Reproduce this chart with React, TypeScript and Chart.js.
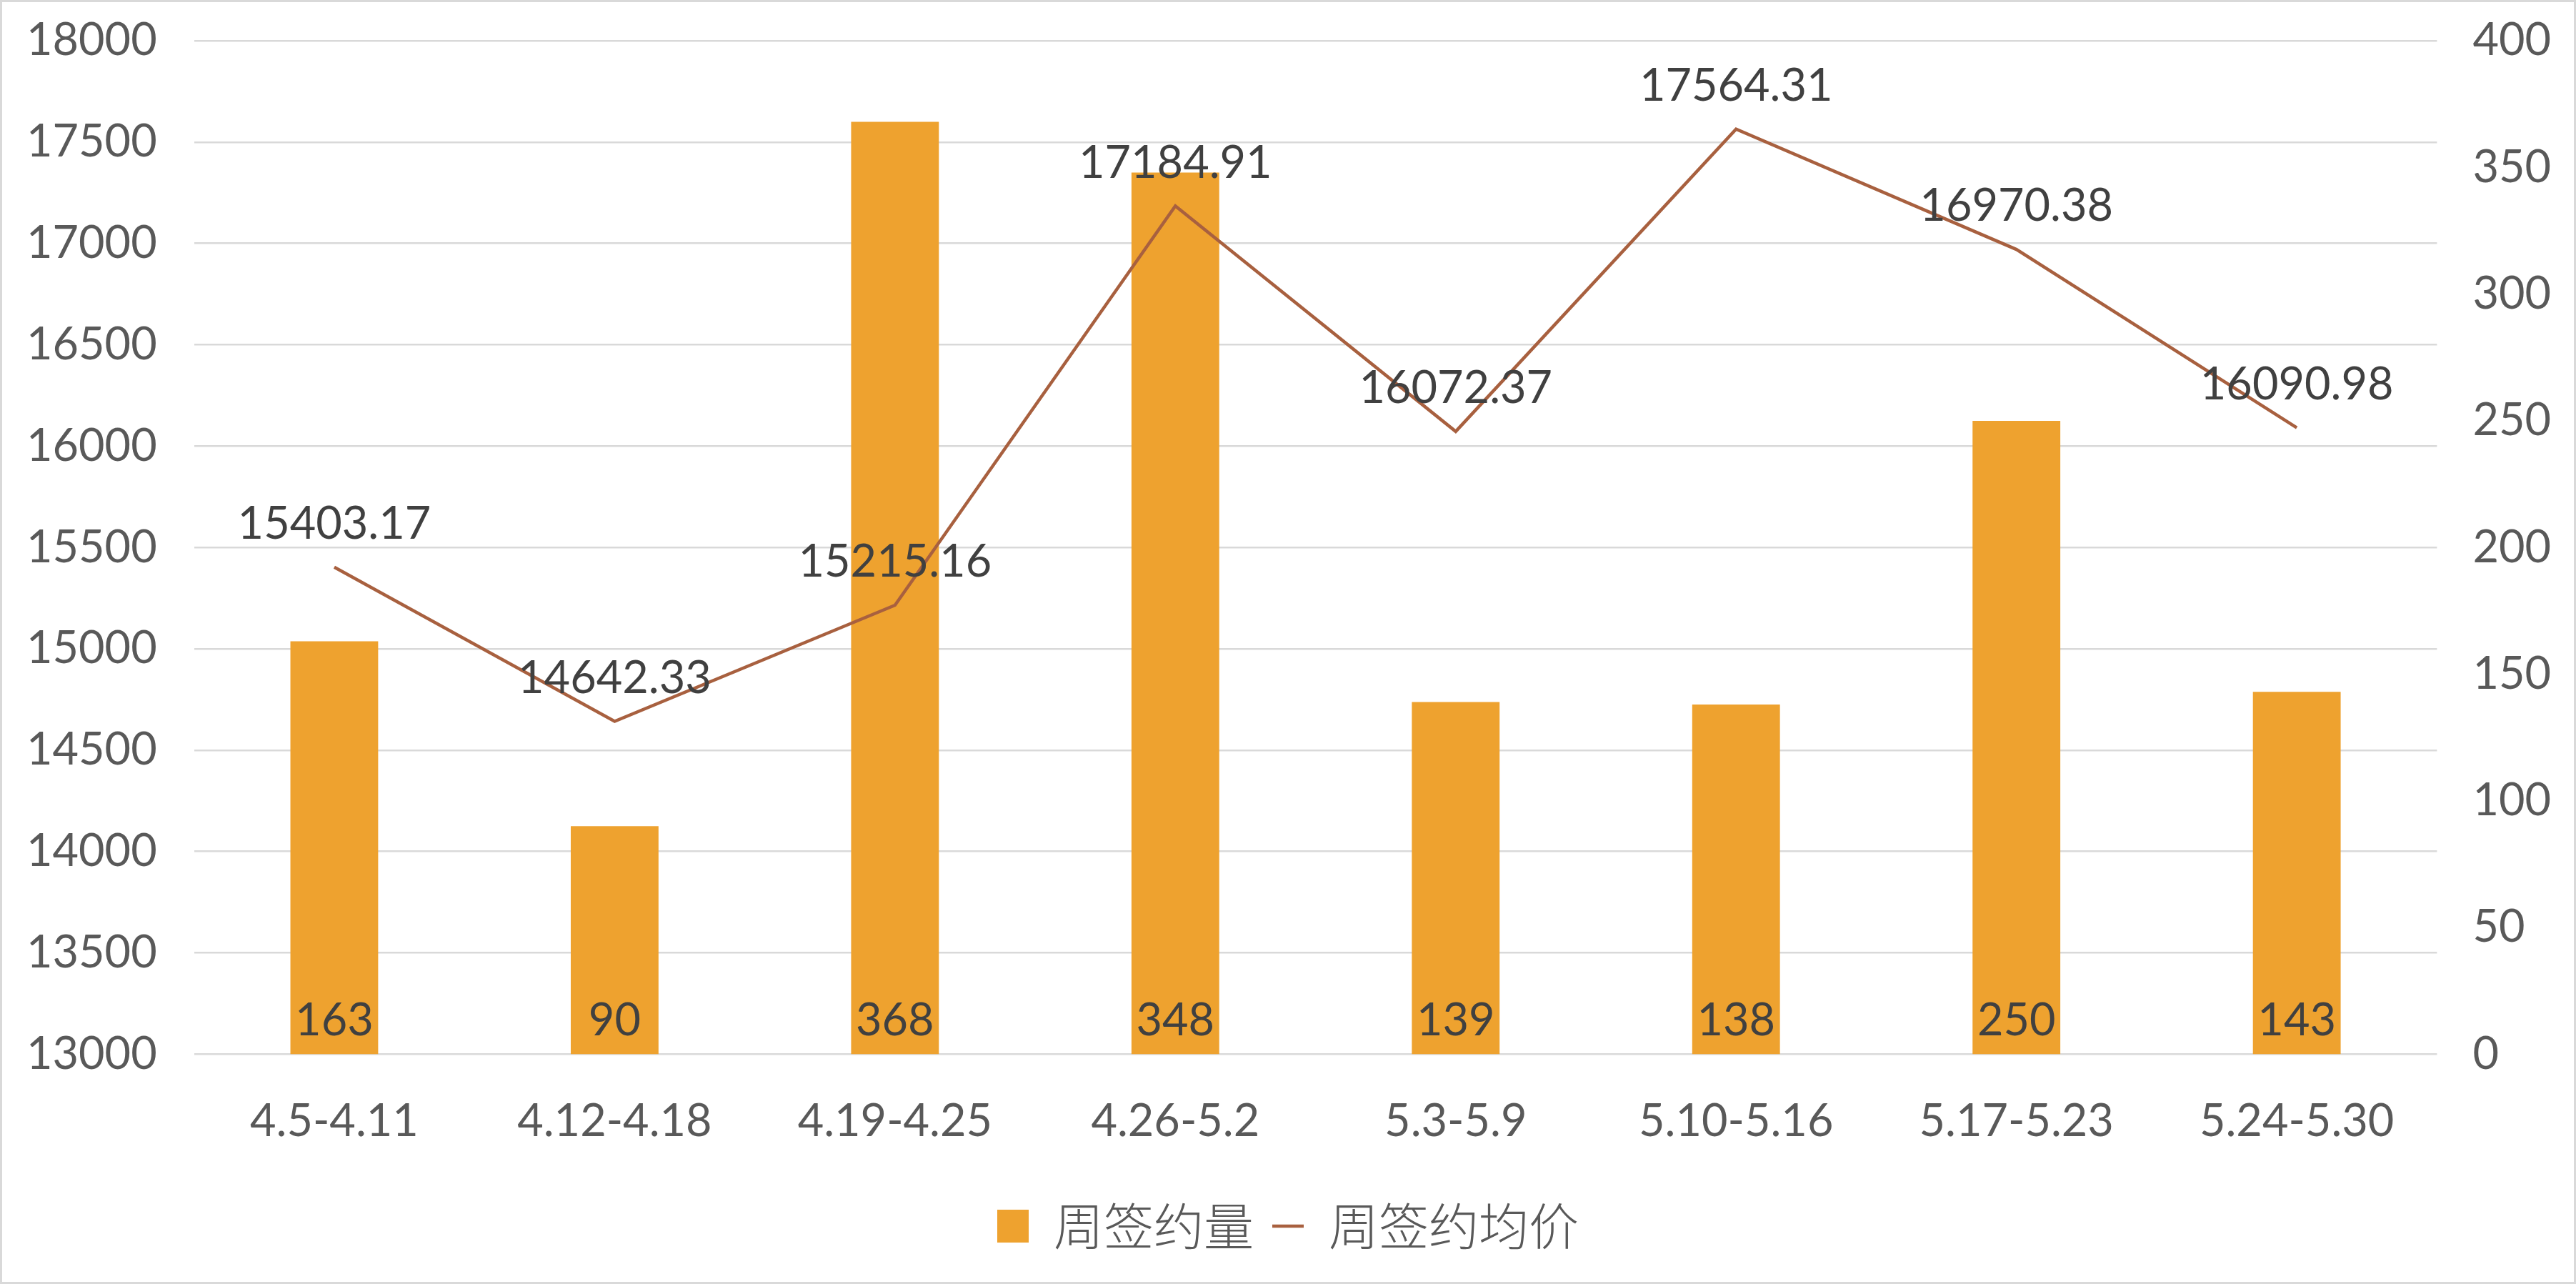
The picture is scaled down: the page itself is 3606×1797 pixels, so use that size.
import React, { useEffect, useRef } from "react";
import { Chart, registerables } from "chart.js";

Chart.register(...registerables);

const categories = ["4.5-4.11", "4.12-4.18", "4.19-4.25", "4.26-5.2", "5.3-5.9", "5.10-5.16", "5.17-5.23", "5.24-5.30"];
const weeklyVolume = [163, 90, 368, 348, 139, 138, 250, 143];
const weeklyAvgPrice = [15403.17, 14642.33, 15215.16, 17184.91, 16072.37, 17564.31, 16970.38, 16090.98];
const priceAxisRange = [13000, 18000, 500];
const volumeAxisRange = [0, 400, 50];
const seriesNames = ["周签约量", "周签约均价"];

const NUM_FONT = "Lato";
const CJK_FONT = '"Noto Sans CJK SC"';
const BAR_COLOR = "#EEA22F";
const LINE_COLOR = "#A8603F";
const GRID_COLOR = "#D9D9D9";
const AXIS_TEXT = "#595959";
const LABEL_TEXT = "#404040";

const labelPlugin = {
  id: "valueLabels",
  beforeDraw(chart: any) {
    const { ctx, width, height } = chart;
    ctx.save();
    ctx.fillStyle = "#ffffff";
    ctx.fillRect(0, 0, width, height);
    ctx.strokeStyle = GRID_COLOR;
    ctx.lineWidth = 3;
    ctx.strokeRect(1.5, 1.5, width - 3, height - 3);
    ctx.restore();
  },
  afterDatasetsDraw(chart: any) {
    const { ctx } = chart;
    ctx.save();
    ctx.font = `63px ${NUM_FONT}`;
    ctx.fillStyle = LABEL_TEXT;
    ctx.textAlign = "center";
    ctx.textBaseline = "middle";
    const barMeta = chart.getDatasetMeta(0);
    barMeta.data.forEach((el: any, i: number) => {
      ctx.fillText(String(weeklyVolume[i]), el.x, el.base - 47);
    });
    const lineMeta = chart.getDatasetMeta(1);
    lineMeta.data.forEach((el: any, i: number) => {
      ctx.fillText(weeklyAvgPrice[i].toFixed(2), el.x, el.y - 60);
    });
    ctx.restore();
  },
};

const trimVerticalPadding = (scale: any) => {
  scale.paddingTop = 57;
  scale.paddingBottom = 0;
};

export default function App() {
  const canvasRef = useRef<HTMLCanvasElement | null>(null);

  useEffect(() => {
    document.body.style.margin = "0";
    document.body.style.overflow = "hidden";
    let chart: Chart | null = null;
    let cancelled = false;

    const build = () => {
      if (cancelled || !canvasRef.current) return;
      chart = new Chart(canvasRef.current, {
        data: {
          labels: categories,
          datasets: [
            {
              type: "bar",
              label: seriesNames[0],
              data: weeklyVolume,
              yAxisID: "y1",
              backgroundColor: BAR_COLOR,
              borderWidth: 0,
              barPercentage: 0.313,
              categoryPercentage: 1.0,
              pointStyle: "rect",
              order: 2,
            } as any,
            {
              type: "line",
              label: seriesNames[1],
              data: weeklyAvgPrice,
              yAxisID: "y",
              borderColor: LINE_COLOR,
              backgroundColor: LINE_COLOR,
              borderWidth: 4.5,
              pointRadius: 0,
              pointHoverRadius: 0,
              pointStyle: "line",
              tension: 0,
              order: 1,
            } as any,
          ],
        },
        options: {
          animation: false,
          responsive: true,
          maintainAspectRatio: false,
          layout: { padding: { left: -15, right: -15, top: 0, bottom: 36 } },
          plugins: {
            tooltip: { enabled: false },
            legend: {
              position: "bottom",
              labels: {
                usePointStyle: true,
                pointStyleWidth: 44,
                boxHeight: 46,
                padding: 26,
                color: AXIS_TEXT,
                font: { family: CJK_FONT, size: 70, weight: "300" },
                sort: (a: any, b: any) => a.datasetIndex - b.datasetIndex,
              },
            },
          },
          scales: {
            x: {
              grid: { display: false },
              border: { display: false },
              ticks: {
                color: AXIS_TEXT,
                font: { family: NUM_FONT, size: 63 },
                padding: 48,
                maxRotation: 0,
                autoSkip: false,
              },
            },
            y: {
              position: "left",
              min: priceAxisRange[0],
              max: priceAxisRange[1],
              grid: { color: GRID_COLOR, lineWidth: 2.5, drawTicks: false },
              border: { display: false },
              ticks: {
                stepSize: priceAxisRange[2],
                color: AXIS_TEXT,
                font: { family: NUM_FONT, size: 63 },
                padding: 52,
                callback: (v: any) => String(v),
              },
              afterFit: trimVerticalPadding,
            },
            y1: {
              position: "right",
              min: volumeAxisRange[0],
              max: volumeAxisRange[1],
              grid: { display: false, drawTicks: false },
              border: { display: false },
              ticks: {
                stepSize: volumeAxisRange[2],
                color: AXIS_TEXT,
                font: { family: NUM_FONT, size: 63 },
                padding: 50,
                callback: (v: any) => String(v),
              },
              afterFit: trimVerticalPadding,
            },
          },
        },
        plugins: [labelPlugin],
      } as any);
    };

    const fontsReady = (document as any).fonts
      ? Promise.all([
          (document as any).fonts.load(`63px ${NUM_FONT}`, "0123456789."),
          (document as any).fonts.load(`300 70px ${CJK_FONT}`, "周签约量均价"),
        ]).catch(() => null)
      : Promise.resolve(null);
    fontsReady.then(build);

    return () => {
      cancelled = true;
      if (chart) chart.destroy();
    };
  }, []);

  return (
    <div style={{ position: "relative", width: "3606px", height: "1797px" }}>
      <canvas ref={canvasRef} />
    </div>
  );
}
